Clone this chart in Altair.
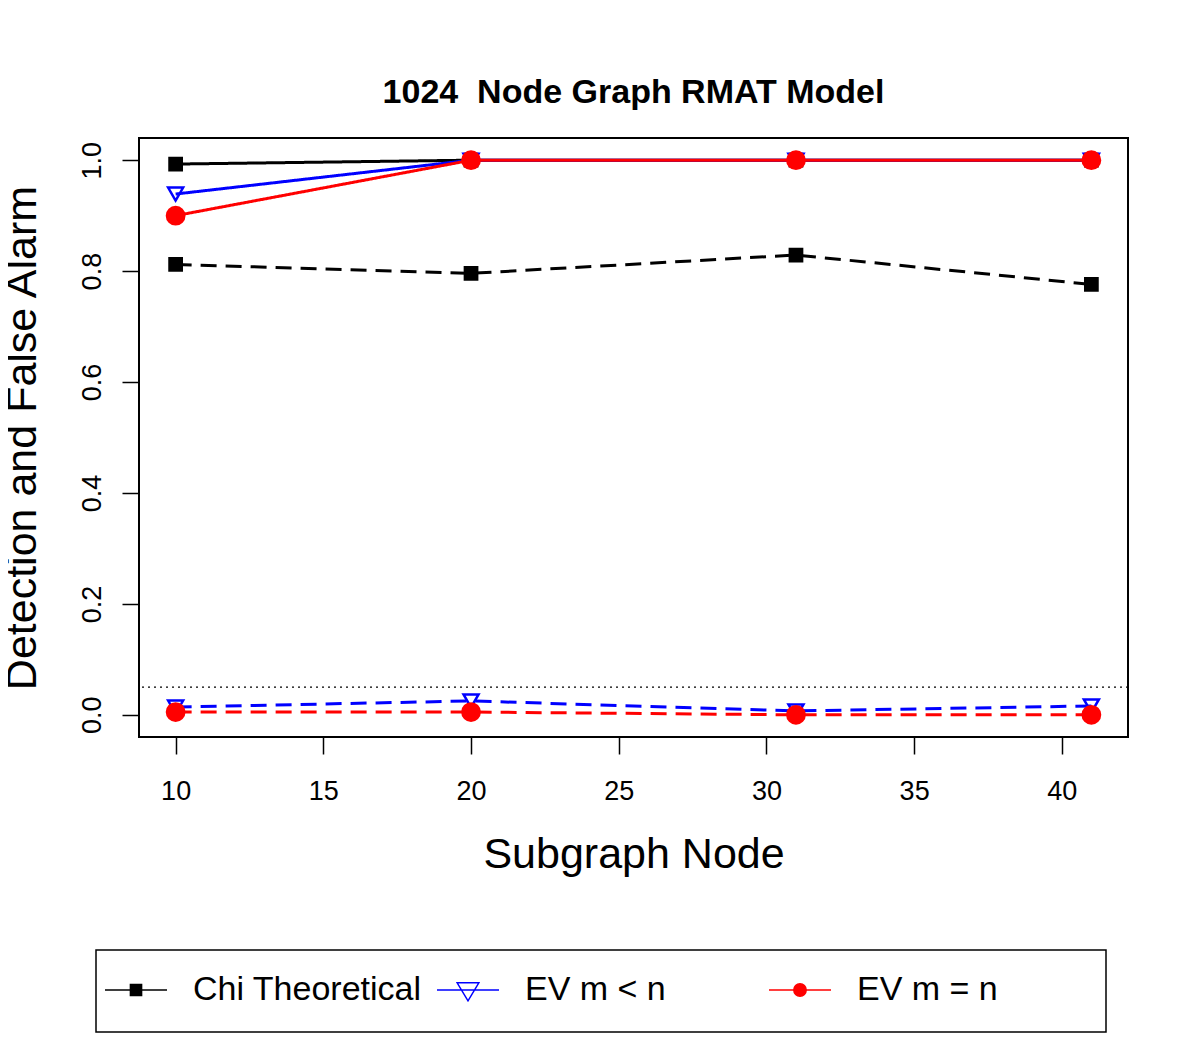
import altair as alt
import pandas as pd

# ---- data ----
series_names = ["Chi Theoretical", "EV m < n", "EV m = n"]
metric_names = ["Detection", "False Alarm"]
subgraph_nodes = [10, 20, 31, 41]
chi_detection = [0.993, 1.0, 1.0, 1.0]
chi_false_alarm = [0.812, 0.796, 0.829, 0.776]
ev_lt_detection = [0.939, 1.0, 1.0, 1.0]
ev_lt_false_alarm = [0.014, 0.025, 0.007, 0.016]
ev_eq_detection = [0.900, 1.0, 1.0, 1.0]
ev_eq_false_alarm = [0.005, 0.005, 0.0, 0.0]
alarm_level = [0.05]
x_ticks = [10, 15, 20, 25, 30, 35, 40]
y_ticks = [0.0, 0.2, 0.4, 0.6, 0.8, 1.0]

values = {
    ("Chi Theoretical", "Detection"): chi_detection,
    ("Chi Theoretical", "False Alarm"): chi_false_alarm,
    ("EV m < n", "Detection"): ev_lt_detection,
    ("EV m < n", "False Alarm"): ev_lt_false_alarm,
    ("EV m = n", "Detection"): ev_eq_detection,
    ("EV m = n", "False Alarm"): ev_eq_false_alarm,
}
rows = []
for s in series_names:
    for m in metric_names:
        for xv, yv in zip(subgraph_nodes, values[(s, m)]):
            rows.append({"series": s, "metric": m, "x": xv, "y": yv})
df = pd.DataFrame(rows)
thr = pd.DataFrame({"y": alarm_level})

FONT = "Liberation Sans"
colors = ["black", "#0000ff", "#ff0000"]

x_enc = alt.X(
    "x:Q",
    scale=alt.Scale(domain=[8.76, 42.24], nice=False, zero=False),
    axis=alt.Axis(
        values=x_ticks, title="Subgraph Node", format="d", grid=False, domain=False,
        labelFontSize=27, labelPadding=45, labelBaseline="alphabetic",
        titleFontSize=43, titleFontWeight="normal", titleY=130,
        titleBaseline="alphabetic",
    ),
)
y_enc = alt.Y(
    "y:Q",
    scale=alt.Scale(domain=[-0.04, 1.04], nice=False, zero=False),
    axis=alt.Axis(
        values=y_ticks, title="Detection and False Alarm", format=".1f",
        grid=False, domain=False,
        labelFontSize=27, labelAngle=270, labelAlign="center",
        labelBaseline="alphabetic", labelPadding=22,
        titleFontSize=43, titleFontWeight="normal", titleAngle=270,
        titleBaseline="alphabetic", titleAlign="center", titleX=-104, titleY=299.5,
    ),
)

color_scale = alt.Scale(domain=series_names, range=colors)
fill_scale = alt.Scale(domain=series_names, range=["black", "transparent", "#ff0000"])

rule = alt.Chart(thr).mark_rule(color="black", strokeWidth=1.3, strokeDash=[2, 4]).encode(y=y_enc)

lines = alt.Chart(df).mark_line(strokeWidth=3).encode(
    x=x_enc,
    y=y_enc,
    color=alt.Color("series:N", scale=color_scale, legend=None),
    strokeDash=alt.StrokeDash(
        "metric:N",
        scale=alt.Scale(domain=metric_names, range=[[1, 0], [16, 9]]),
        legend=None,
    ),
)

points = alt.Chart(df).mark_point(filled=False, strokeWidth=2.5, opacity=1).encode(
    x=x_enc,
    y=y_enc,
    color=alt.Color("series:N", scale=color_scale, legend=None),
    fill=alt.Fill("series:N", scale=fill_scale, legend=None),
    shape=alt.Shape(
        "series:N",
        scale=alt.Scale(domain=series_names, range=["square", "triangle-down", "circle"]),
        legend=None,
    ),
    size=alt.Size(
        "series:N",
        scale=alt.Scale(domain=series_names, range=[150, 300, 140]),
        legend=None,
    ),
)

legend_paths = [
    "M0,-1M0,1M-1,0H1M-0.18,-0.18H0.18V0.18H-0.18Z",
    "M0,-1M0,1M-1,0H1M-0.35,-0.23L0.35,-0.23L0,0.35Z",
    "M0,-1M0,1M-1,0H1M0.2,0A0.2,0.2 0 1,1 -0.2,0A0.2,0.2 0 1,1 0.2,0Z",
]

pad_last = "\u2800" * 4
label_expr = (
    "datum.label == '" + series_names[-1] + "' ? datum.label + '" + pad_last + "' : datum.label"
)


def leg():
    return alt.Legend(
        title=None, orient="none", legendX=-43, legendY=812,
        direction="horizontal", columns=3, gridAlign="all",
        labelFont=FONT, labelFontSize=34, labelColor="black", labelLimit=600,
        labelOffset=25, columnPadding=0, padding=8, labelExpr=label_expr,
        strokeColor="black", symbolSize=3844, symbolStrokeWidth=1.5,
        symbolOpacity=1, labelBaseline="middle",
    )


legend_layer = alt.Chart(df[df["metric"] == "Detection"]).mark_point(
    filled=False, strokeWidth=1.5, opacity=0
).encode(
    x=x_enc,
    y=y_enc,
    color=alt.Color("series:N", scale=color_scale, legend=leg()),
    fill=alt.Fill("series:N", scale=fill_scale, legend=leg()),
    shape=alt.Shape(
        "series:N", scale=alt.Scale(domain=series_names, range=legend_paths), legend=leg()
    ),
)

chart = (
    alt.layer(rule, lines, points, legend_layer)
    .resolve_scale(color="independent", fill="independent", shape="independent")
    .properties(
        width=989,
        height=599,
        autosize=alt.AutoSizeParams(type="none"),
        padding={"left": 131, "top": 130, "right": 64, "bottom": 318},
        background="white",
        title=alt.TitleParams(
            text="1024\u00a0 Node Graph RMAT Model",
            fontSize=34, fontWeight="bold", font=FONT, color="black",
            anchor="middle", baseline="alphabetic", offset=1,
        ),
    )
    .configure_view(stroke="black", strokeWidth=2)
    .configure_axis(
        labelFont=FONT, titleFont=FONT, labelColor="black", titleColor="black",
        titleFontWeight="normal", tickColor="black", tickWidth=1.5, tickSize=17,
        domain=False, grid=False,
    )
    .configure_legend(strokeWidth=1.5)
)

chart.save("out.html", embed_options={"renderer": "svg", "actions": False})
